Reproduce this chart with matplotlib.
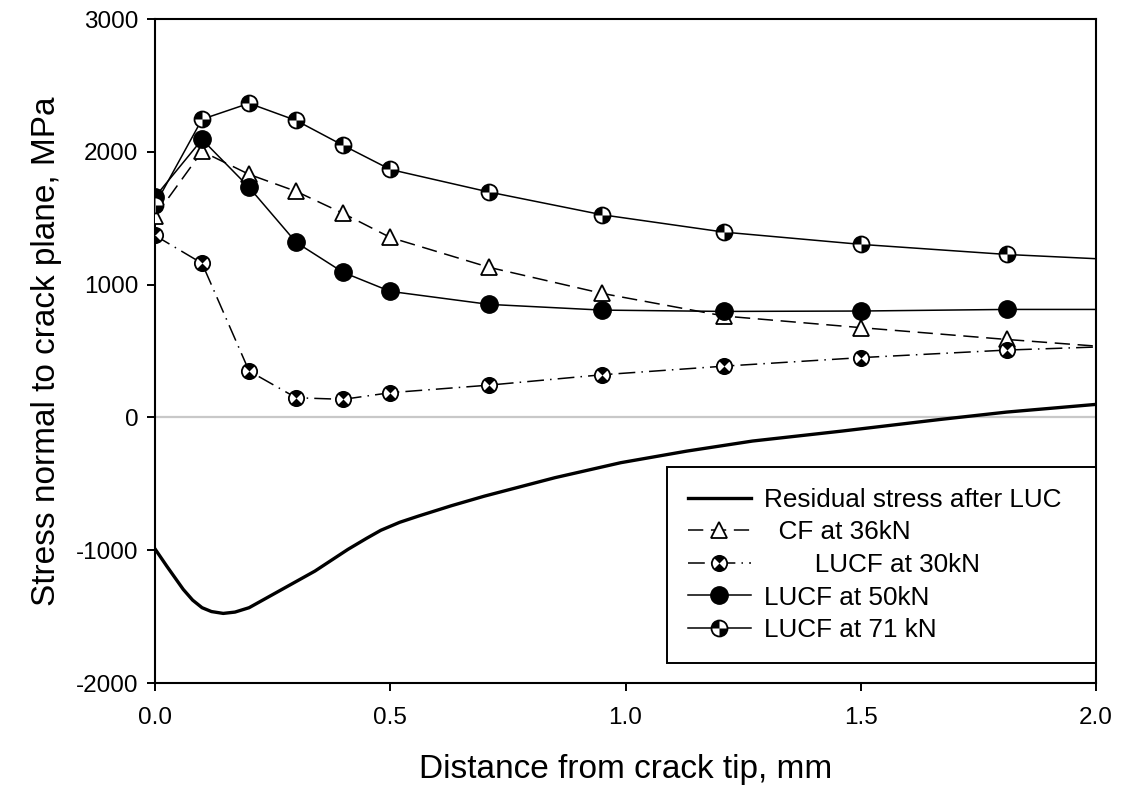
import matplotlib
matplotlib.use("Agg")
import matplotlib.pyplot as plt
from matplotlib.path import Path
from matplotlib.legend_handler import HandlerTuple

plt.rcParams['font.family'] = ['Liberation Sans', 'DejaVu Sans']
plt.rcParams['axes.unicode_minus'] = False

# distance from crack tip (mm) where stresses were evaluated, last value = end of curve
dist = [0.0, 0.1, 0.2, 0.3, 0.4, 0.5, 0.71, 0.95, 1.21, 1.5, 1.81, 2.0]

cf_36 = [1513, 2003, 1830, 1702, 1536, 1355, 1130, 934, 763, 676, 587, 537]
lucf_30 = [1370, 1160, 349, 148, 136, 186, 243, 321, 386, 450, 507, 530]
lucf_50 = [1660, 2093, 1732, 1318, 1092, 949, 851, 808, 798, 801, 813, 813]
lucf_71 = [1600, 2245, 2365, 2236, 2048, 1867, 1697, 1526, 1395, 1303, 1227, 1195]

# residual stress after LUC
res_x = [0.0, 0.025, 0.06, 0.08, 0.10, 0.12, 0.145, 0.17, 0.20, 0.27, 0.34, 0.41, 0.45,
         0.48, 0.52, 0.56, 0.63, 0.70, 0.85, 0.99, 1.13, 1.27, 1.46, 1.67, 1.81, 2.0]
res_y = [-990, -1120, -1295, -1376, -1433, -1462, -1476, -1466, -1433, -1295, -1157, -994, -910,
         -850, -790, -743, -665, -593, -454, -341, -254, -178, -103, -15, 40, 98]

# half-filled circle markers
quad = Path.make_compound_path(Path.wedge(90, 180), Path.wedge(270, 360))
hourglass = Path.make_compound_path(Path.wedge(45, 135), Path.wedge(225, 315))

fig = plt.figure(figsize=(11.31, 7.94), dpi=100)
ax = fig.add_axes([155 / 1131, 111 / 794, 941 / 1131, 664 / 794])

ax.axhline(0, color='#c8c8c8', lw=1.6, zorder=1)

mk = list(range(len(dist) - 1))
lw = 1.1

h_res, = ax.plot(res_x, res_y, color='black', lw=2.4, zorder=2)

h_cf, = ax.plot(dist, cf_36, color='black', lw=lw, dashes=(10, 5), marker='^',
                ms=12, mfc='white', mec='black', mew=1.3, markevery=mk, zorder=3)

h_30a, = ax.plot(dist, lucf_30, color='black', lw=lw, dashes=(11, 4, 1, 4),
                 marker='o', ms=11, mfc='white', mec='black', mew=1.3, markevery=mk, zorder=3)
h_30b, = ax.plot(dist[:-1], lucf_30[:-1], ls='none', marker=hourglass, ms=11,
                 mfc='black', mec='black', mew=0, zorder=4)

h_50, = ax.plot(dist, lucf_50, color='black', lw=lw, marker='o', ms=12.5,
                mfc='black', mec='black', markevery=mk, zorder=3)

h_71a, = ax.plot(dist, lucf_71, color='black', lw=lw, marker='o', ms=11.5,
                 mfc='white', mec='black', mew=1.3, markevery=mk, zorder=3)
h_71b, = ax.plot(dist[:-1], lucf_71[:-1], ls='none', marker=quad, ms=11.5,
                 mfc='black', mec='black', mew=0, zorder=4)

ax.set_xlim(0, 2.0)
ax.set_ylim(-2000, 3000)
ax.set_xticks([0.0, 0.5, 1.0, 1.5, 2.0])
ax.set_xticklabels(['0.0', '0.5', '1.0', '1.5', '2.0'])
ax.set_yticks([-2000, -1000, 0, 1000, 2000, 3000])
ax.tick_params(direction='out', length=6, width=1.4, labelsize=17.5)
ax.tick_params(axis='x', pad=11)
ax.tick_params(axis='y', pad=6)
for s in ax.spines.values():
    s.set_linewidth(1.5)

ax.set_xlabel('Distance from crack tip, mm', fontsize=24, labelpad=18)
ax.set_ylabel('Stress normal to crack plane, MPa', fontsize=24, labelpad=10)

leg = ax.legend([h_res, h_cf, (h_30a, h_30b), h_50, (h_71a, h_71b)],
                ['Residual stress after LUC', '  CF at 36kN', '       LUCF at 30kN',
                 'LUCF at 50kN', 'LUCF at 71 kN'],
                handler_map={tuple: HandlerTuple(ndivide=1, pad=0)},
                loc='lower left', bbox_to_anchor=(512 / 941, 0.03, 429 / 941, 0.3),
                mode='expand', borderaxespad=0,
                fontsize=18.8, handlelength=2.4, handletextpad=0.5, labelspacing=0.33,
                borderpad=0.8, fancybox=False, framealpha=1, edgecolor='black')
leg.get_frame().set_linewidth(1.4)

fig.savefig('out.png', dpi=100)
